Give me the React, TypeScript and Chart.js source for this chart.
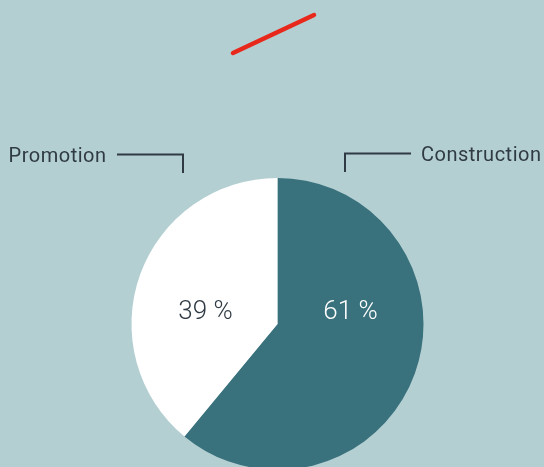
import React, { useEffect, useRef } from "react";
import { Chart, registerables } from "chart.js";

Chart.register(...registerables);

const categories = ["Construction", "Promotion"];
const values = [61, 39];
const percentLabels = ["61 %", "39 %"];
const colors = ["#39717d", "#ffffff"];
const labelColors = ["#ffffff", "#2f3a44"];

const BG = "#b4cfd2";
const INK = "#2f3a44";
const FONT = "Roboto, 'DejaVu Sans', sans-serif";

const decorPlugin = {
  id: "decor",
  afterDatasetsDraw(chart: any) {
    const ctx = chart.ctx as CanvasRenderingContext2D;
    const meta = chart.getDatasetMeta(0);
    const arc0 = meta.data[0] as any;
    if (!arc0) return;
    const cx = arc0.x;
    const cy = arc0.y;
    const r = arc0.outerRadius;

    // red decorative stroke
    ctx.save();
    ctx.strokeStyle = "#e8281b";
    ctx.lineWidth = 4.5;
    ctx.lineCap = "round";
    ctx.beginPath();
    ctx.moveTo(cx - 44.5, 53);
    ctx.lineTo(cx + 36.5, 15);
    ctx.stroke();
    ctx.restore();

    // percentage labels
    ctx.save();
    ctx.font = `300 26px ${FONT}`;
    ctx.textAlign = "center";
    ctx.textBaseline = "middle";
    meta.data.forEach((arc: any, i: number) => {
      const mid = (arc.startAngle + arc.endAngle) / 2;
      const side = Math.cos(mid) >= 0 ? 1 : -1;
      ctx.fillStyle = labelColors[i];
      ctx.fillText(percentLabels[i], cx + side * r * 0.5 + (side < 0 ? 1 : 0), cy - 12);
    });
    ctx.restore();

    // leader lines + category labels
    const topY = cy - r - 24;
    ctx.save();
    ctx.strokeStyle = INK;
    ctx.lineWidth = 2;
    ctx.fillStyle = INK;
    ctx.font = `400 20px ${FONT}`;
    (ctx as any).letterSpacing = "0.5px";
    ctx.textBaseline = "alphabetic";
    // Construction (right)
    ctx.beginPath();
    ctx.moveTo(cx + 67.5, cy - r - 6);
    ctx.lineTo(cx + 67.5, topY - 0.5);
    ctx.lineTo(cx + 133.5, topY - 0.5);
    ctx.stroke();
    ctx.textAlign = "left";
    ctx.fillText(categories[0], cx + 143.5, topY + 7);
    // Promotion (left)
    ctx.beginPath();
    ctx.moveTo(cx - 94.5, cy - r - 5);
    ctx.lineTo(cx - 94.5, topY + 0.5);
    ctx.lineTo(cx - 160.5, topY + 0.5);
    ctx.stroke();
    ctx.textAlign = "right";
    ctx.fillText(categories[1], cx - 171, topY + 8);
    ctx.restore();
  },
};

export default function App() {
  const ref = useRef<HTMLCanvasElement>(null);
  useEffect(() => {
    document.body.style.margin = "0";
    const chart = new Chart(ref.current!, {
      type: "pie",
      data: {
        labels: categories,
        datasets: [
          {
            data: values,
            backgroundColor: colors,
            borderWidth: 0,
          },
        ],
      },
      options: {
        animation: false,
        responsive: false,
        maintainAspectRatio: false,
        layout: { padding: { top: 178, bottom: 10, left: 131.5, right: 120.5 } },
        plugins: {
          legend: { display: false },
          tooltip: { enabled: false },
        },
      },
      plugins: [decorPlugin],
    });
    return () => chart.destroy();
  }, []);
  return (
    <div style={{ width: 544, height: 467, overflow: "hidden", background: BG, position: "relative" }}>
      <canvas ref={ref} width={544} height={480} style={{ display: "block" }} />
    </div>
  );
}
